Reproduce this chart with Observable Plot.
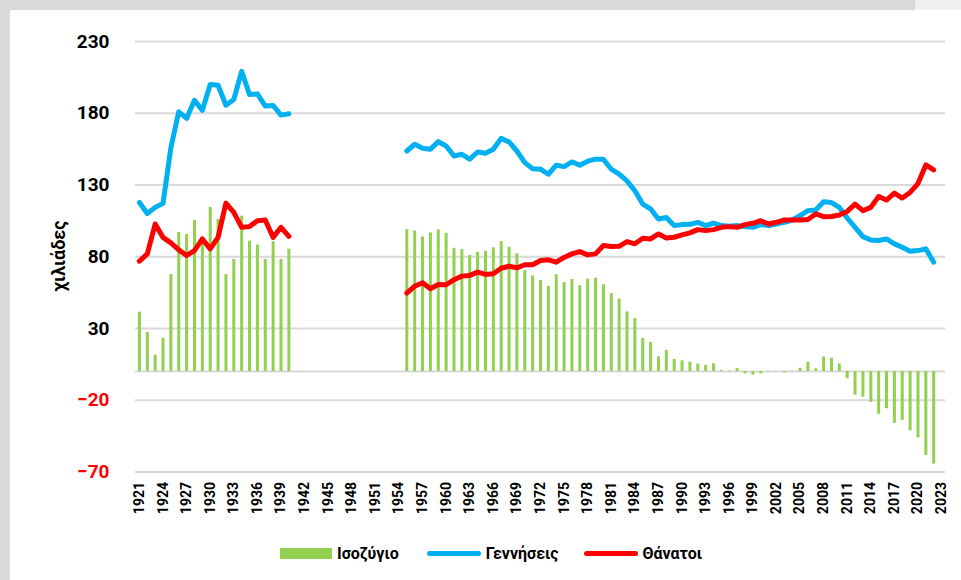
<!DOCTYPE html>
<html>
<head>
<meta charset="utf-8">
<script src="https://cdn.jsdelivr.net/npm/d3@7"></script>
<script src="https://cdn.jsdelivr.net/npm/@observablehq/plot@0.6"></script>
<style>
  html, body { margin: 0; padding: 0; background: #fff; }
  #wrap { position: relative; width: 961px; height: 580px; overflow: hidden; background: #fff; font-family: Roboto, "Open Sans", sans-serif; }
  #chart { position: absolute; left: 0; top: 0; }
  .frame { position: absolute; }
  #ylabel { position: absolute; left: 58px; top: 256px; transform: translate(-50%, -50%) rotate(-90deg); font-weight: 700; font-size: 18px; color: #000; white-space: nowrap; }
  #legend { position: absolute; left: 280px; top: 543px; height: 20px; display: flex; align-items: center; font-weight: 700; font-size: 16px; color: #000; white-space: nowrap; }
  #legend .sw { display: inline-block; }
  #legend .lt { margin-left: 5px; }
</style>
</head>
<body>
<div id="wrap">
  <div id="chart"></div>
  <div class="frame" style="left:0;top:0;width:915px;height:10px;background:#d9d9d9"></div>
  <div class="frame" style="left:915px;top:0;width:46px;height:10px;background:#efefef"></div>
  <div class="frame" style="left:0;top:0;width:10px;height:580px;background:#d9d9d9"></div>
  <div id="ylabel">χιλιάδες</div>
  <div id="legend">
    <span class="sw" style="width:52px;height:11px;background:#92d050"></span><span class="lt">Ισοζύγιο</span>
    <span class="sw" style="width:54px;height:5px;border-radius:3px;background:#00b0f0;margin-left:28px"></span><span class="lt">Γεννήσεις</span>
    <span class="sw" style="width:54px;height:5px;border-radius:3px;background:#ff0000;margin-left:25px"></span><span class="lt">Θάνατοι</span>
  </div>
</div>
<script>
// ---- Data (thousands) ----
// Period 1: 1921–1940
const startA = 1921;
const birthsA  = [117.8,110.2,114.4,117.2,156.0,181.0,176.4,189.0,182.0,200.0,199.5,185.6,189.6,209.2,193.0,193.5,185.0,185.4,178.7,179.6];
const deathsA  = [76.9,82.0,102.8,93.5,89.7,84.8,80.9,84.3,92.4,85.5,93.5,117.4,110.9,100.5,101.0,105.1,105.6,93.5,100.5,94.2];
const balanceA = [41.4,27.2,11.4,23.2,67.6,96.9,95.5,105.3,93.7,114.4,106.0,67.6,78.1,108.3,90.9,88.1,78.1,90.4,78.1,85.3];

// Period 2: 1955–2022
const startB = 1955;
const birthsB = [153.7,158.4,155.6,154.9,160.2,157.2,150.2,151.4,148.0,153.0,
                 152.1,154.9,162.5,160.0,153.7,145.6,141.4,141.0,137.5,143.8,
                 142.8,146.1,143.8,146.6,148.0,148.0,141.0,137.6,132.9,126.0,
                 116.7,113.3,106.3,107.4,101.7,102.4,102.6,104.0,101.7,103.5,
                 101.7,101.2,101.7,101.0,100.5,102.4,101.7,102.8,104.0,105.6,
                 108.6,112.1,112.6,118.3,117.8,114.4,107.0,100.5,94.0,91.7,
                 91.3,92.4,89.0,86.6,83.8,84.3,85.5,76.2];
const deathsB = [54.7,59.5,61.9,57.7,60.7,60.5,64.0,66.5,67.0,69.3,
                 67.7,68.2,72.0,73.4,72.3,74.4,74.4,77.4,77.9,76.2,
                 79.5,82.0,83.6,81.3,82.0,87.8,87.1,87.3,90.6,89.0,
                 92.9,92.4,95.9,93.1,93.6,95.2,96.6,98.9,98.2,98.9,
                 100.5,101.0,100.5,102.4,103.3,105.1,102.8,104.0,105.6,105.6,
                 105.6,106.0,109.8,107.9,108.1,109.1,111.6,116.7,112.1,114.4,
                 122.0,119.5,124.4,120.9,124.8,131.0,144.0,140.5];
const balanceB = [98.9,98.0,93.8,96.6,98.7,96.3,85.9,85.0,80.9,83.1,
                  83.8,86.2,90.6,86.6,82.0,70.4,66.7,63.5,59.3,67.4,
                  61.9,64.2,59.8,64.4,65.1,60.5,54.3,50.5,41.5,36.9,
                  23.0,20.3,10.3,14.7,8.5,7.5,6.6,5.2,4.3,5.4,
                  0.8,0.3,2.1,-1.6,-2.5,-1.6,-0.3,0.2,-0.8,0.3,
                  2.3,6.5,1.9,10.2,9.3,5.3,-4.9,-16.4,-17.8,-21.5,
                  -29.8,-25.9,-36.1,-34.0,-41.4,-46.3,-58.5,-64.5];

const xTicks = [1921,1924,1927,1930,1933,1936,1939,1942,1945,1948,1951,1954,1957,1960,1963,1966,1969,1972,
                1975,1978,1981,1984,1987,1990,1993,1996,1999,2002,2005,2008,2011,2014,2017,2020,2023];
const yTicks = [230,180,130,80,30,-20,-70];
const xDomain = [1920.5, 2023.5];
const yDomain = [-70, 230];

// ---- Table built from arrays ----
const rows = [];
birthsA.forEach((b, i) => rows.push({year: startA + i, period: "A", births: b, deaths: deathsA[i], balance: balanceA[i]}));
birthsB.forEach((b, i) => rows.push({year: startB + i, period: "B", births: b, deaths: deathsB[i], balance: balanceB[i]}));

const chart = Plot.plot({
  width: 961,
  height: 530,
  marginLeft: 135,
  marginRight: 16,
  marginTop: 41,
  marginBottom: 58.5,
  style: {background: "transparent", fontFamily: "Roboto, 'Open Sans', sans-serif", overflow: "visible"},
  x: {domain: xDomain},
  y: {domain: yDomain},
  marks: [
    Plot.gridY(yTicks, {stroke: "#d9d9d9", strokeOpacity: 1, strokeWidth: 2}),
    Plot.ruleY([0], {stroke: "#d9d9d9", strokeWidth: 2}),
    Plot.ruleX(rows, {x: "year", y1: 0, y2: "balance", stroke: "#92d050", strokeWidth: 3}),
    Plot.line(rows, {x: "year", y: "births", z: "period", stroke: "#00b0f0", strokeWidth: 5, strokeLinejoin: "round", strokeLinecap: "round"}),
    Plot.line(rows, {x: "year", y: "deaths", z: "period", stroke: "#ff0000", strokeWidth: 5, strokeLinejoin: "round", strokeLinecap: "round"}),
    Plot.axisY(yTicks.filter(v => v >= 0), {tickSize: 0, tickPadding: 26, fontSize: 19, fontWeight: "bold", fill: "#000", label: null}),
    Plot.axisY(yTicks.filter(v => v < 0), {tickSize: 0, tickPadding: 26, fontSize: 19, fontWeight: "bold", fill: "#ff0000", label: null}),
    Plot.axisX(xTicks, {tickSize: 0, tickPadding: 10, tickRotate: -90, fontSize: 14, fontWeight: "bold", fill: "#000", tickFormat: d => String(d), label: null})
  ]
});
document.getElementById("chart").appendChild(chart);
</script>
</body>
</html>
